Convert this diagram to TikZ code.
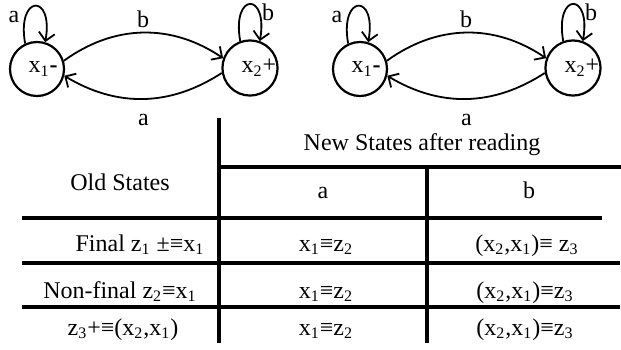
\documentclass[tikz,border=0pt]{standalone}
\usepackage{fontspec}
\setmainfont{Liberation Serif}
\usetikzlibrary{arrows.meta,positioning}
\newcommand{\lo}[1]{\textsubscript{#1}}

\begin{document}
\begin{tikzpicture}[x=0.5pt,y=0.5pt,
        every node/.style={font=\fontsize{12}{14}\selectfont},
        state/.style={draw, circle, line width=1.1pt, minimum size=27pt, inner sep=0pt},
        edge/.style={line width=0.9pt, -{Straight Barb[length=4pt,width=8pt]}},
        lbl/.style={inner sep=0pt},
        rule/.style={line width=1.6pt},
        cell/.style={anchor=base, inner sep=0pt}
    ]
        \useasboundingbox (0,0) rectangle (621,-349);

        % the two automata
        \foreach \o/\n in {0/L,323/R}{
            \node[state] (\n1) at (37+\o,-69) {\hspace{6pt}x\lo{1}\textbf{-}};
            \node[state] (\n2) at (250+\o,-68) {\hspace{9pt}x\lo{2}+};

            \draw[edge] (\n1.115) .. controls +(100:50) and +(80:50) .. (\n1.73);
            \draw[edge] (\n2.110) .. controls +(100:50) and +(80:50) .. (\n2.70);
            \node[lbl] (\n a) at ([shift={(-23,52)}]\n1.center) {a};
            \node[lbl] (\n b) at ([shift={(18,56)}]\n2.center) {b};

            \draw[edge] (\n1.17) to[bend left=35] node[lbl, above=2pt] (\n ab) {b} (\n2.160);
            \draw[edge] (\n2.190) to[bend left=32] node[lbl, below=7pt] (\n ba) {a} (\n1.346);
        }

        % the table
        \draw[rule] (219,-118) -- (219,-343);
        \draw[rule] (427,-167) -- (427,-343);
        \draw[rule] (219,-167) -- (621,-167);
        \draw[rule] (22,-218) -- (602,-218);
        \draw[rule] (22,-263) -- (620,-263);
        \draw[rule] (22,-307) -- (620,-307);

        \node[cell] (new) at (422,-150) {New States after reading};
        \node[cell] (old) at (120,-190) {Old States};
        \node[cell] (ca) at (323,-198) {a};
        \node[cell] (cb) at (529,-198) {b};

        \node[cell] (r1) at (140,-251) {Final z\lo{1} ±≡x\lo{1}};
        \node[cell] (r1a) at (326,-251) {x\lo{1}≡z\lo{2}};
        \node[cell] (r1b) at (527,-251) {(x\lo{2},x\lo{1})≡ z\lo{3}};

        \node[cell] (r2) at (120,-298) {Non-final z\lo{2}≡x\lo{1}};
        \node[cell] (r2a) at (326,-298) {x\lo{1}≡z\lo{2}};
        \node[cell] (r2b) at (525,-298) {(x\lo{2},x\lo{1})≡z\lo{3}};

        \node[cell] (r3) at (123,-335) {z\lo{3}+≡(x\lo{2},x\lo{1})};
        \node[cell] (r3a) at (326,-335) {x\lo{1}≡z\lo{2}};
        \node[cell] (r3b) at (525,-335) {(x\lo{2},x\lo{1})≡z\lo{3}};
    \end{tikzpicture}
\end{document}
